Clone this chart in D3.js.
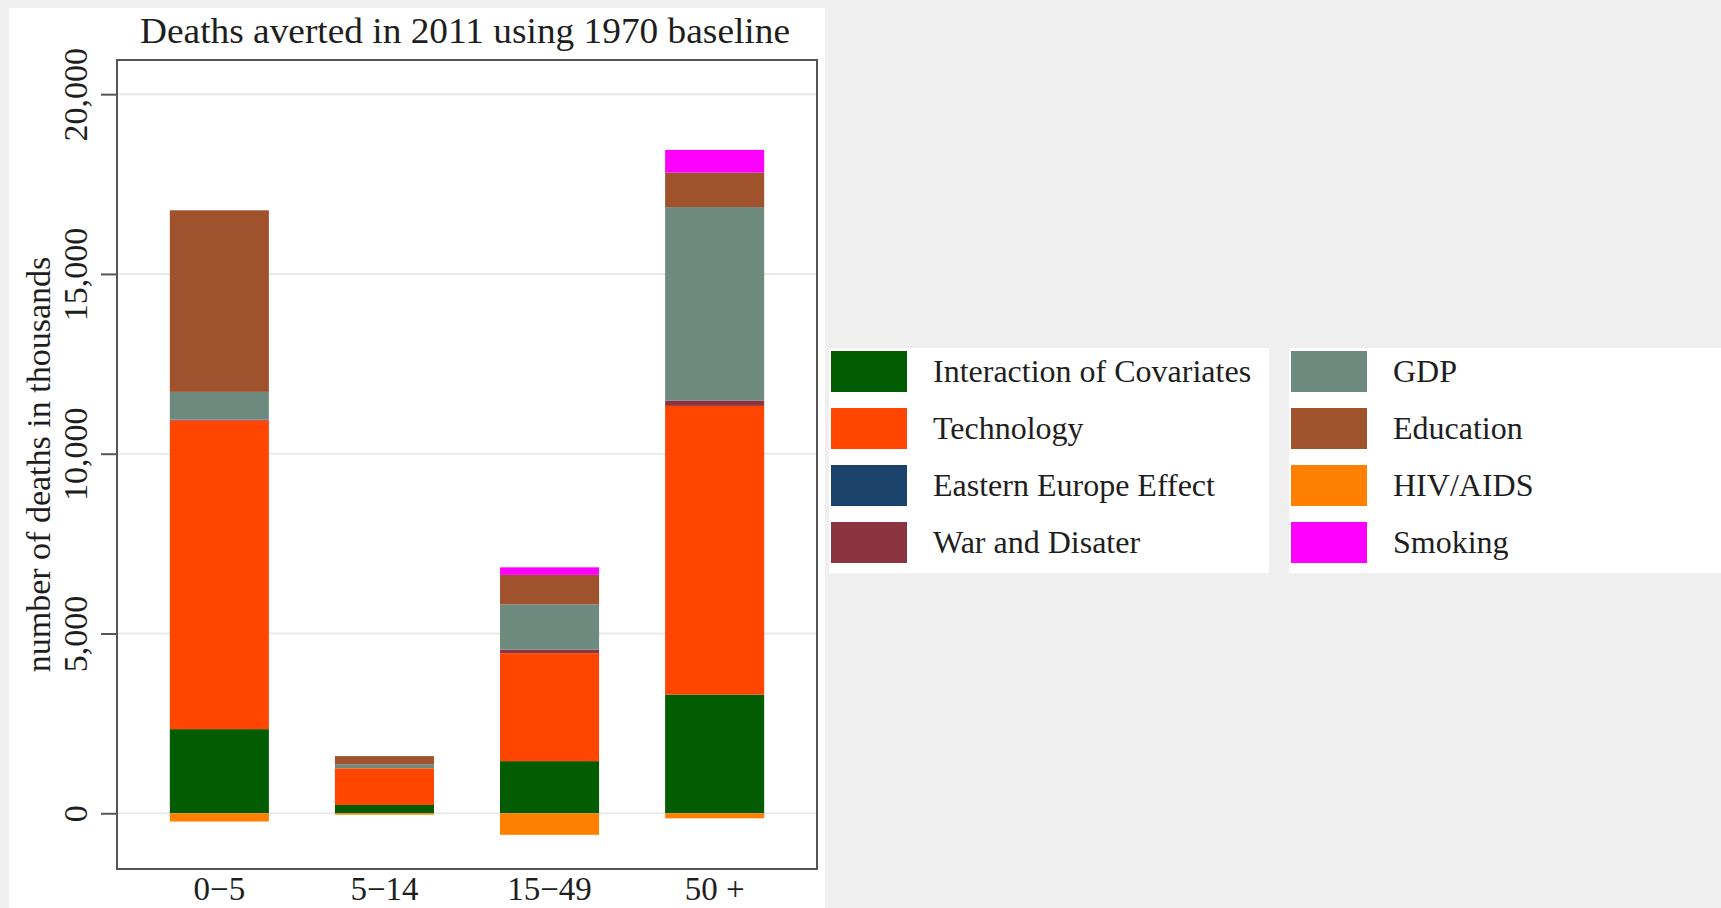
<!DOCTYPE html>
<html>
<head>
<meta charset="utf-8">
<script src="https://cdn.jsdelivr.net/npm/d3@7"></script>
<style>
  html, body { margin: 0; padding: 0; background: #efefef; }
  svg { display: block; }
  text { font-family: "Liberation Serif", "Times New Roman", serif; fill: #1e1e1e; }
</style>
</head>
<body>
<svg id="chart" width="1721" height="908"></svg>
<script>
// Age groups on the x axis
const ageGroups = ["0\u22125", "5\u221214", "15\u221249", "50 +"];

// Deaths averted (thousands) by contributing factor, one value per age group
const interaction   = [2340, 230, 1450, 3300];
const technology    = [8580, 1020, 3000, 8030];
const easternEurope = [0, 0, 0, 0];
const warDisaster   = [30, 0, 100, 150];
const gdp           = [770, 110, 1260, 5380];
const education     = [5050, 230, 820, 960];
const hivAids       = [-230, -40, -600, -140];
const smoking       = [0, 0, 210, 630];

const seriesNames = ["Interaction of Covariates", "Technology", "Eastern Europe Effect",
  "War and Disater", "GDP", "Education", "HIV/AIDS", "Smoking"];
const seriesValues = [interaction, technology, easternEurope, warDisaster,
  gdp, education, hivAids, smoking];
const seriesColors = ["#025c02", "#ff4500", "#1b426b", "#8b3440",
  "#6c8b7e", "#a0522d", "#ff8000", "#ff00ff"];

const yTicks = [0, 5000, 10000, 15000, 20000];

// Table of rows for d3.stack
const rows = ageGroups.map((g, i) => {
  const r = { group: g };
  seriesNames.forEach((s, k) => { r[s] = seriesValues[k][i]; });
  return r;
});

const svg = d3.select("#chart");

// White panel behind the chart
svg.append("rect").attr("x", 9).attr("y", 8).attr("width", 816).attr("height", 900).attr("fill", "#fff");

const plot = { left: 117, right: 817, top: 60, bottom: 869 };

const x = d3.scaleBand().domain(ageGroups).range([plot.left, plot.right])
  .paddingInner(0.4).paddingOuter(0.32);
const y = d3.scaleLinear().domain([-1550, 20950]).range([plot.bottom, plot.top]);

// Gridlines
svg.append("g").selectAll("line").data(yTicks).join("line")
  .attr("x1", plot.left).attr("x2", plot.right)
  .attr("y1", d => y(d)).attr("y2", d => y(d))
  .attr("stroke", "#e9e9e9").attr("stroke-width", 2);

// Stacked bars (HIV/AIDS goes below zero)
const stack = d3.stack().keys(seriesNames).offset(d3.stackOffsetDiverging);
const layers = stack(rows);

svg.append("g").selectAll("g").data(layers).join("g")
  .attr("fill", (d, i) => seriesColors[i])
  .selectAll("rect").data(d => d).join("rect")
  .attr("x", d => x(d.data.group))
  .attr("width", x.bandwidth())
  .attr("y", d => y(Math.max(d[0], d[1])))
  .attr("height", d => Math.abs(y(d[0]) - y(d[1])));

// Frame
svg.append("rect")
  .attr("x", plot.left).attr("y", plot.top)
  .attr("width", plot.right - plot.left).attr("height", plot.bottom - plot.top)
  .attr("fill", "none").attr("stroke", "#555").attr("stroke-width", 2);

// Y axis ticks and rotated labels
const yAxis = d3.axisLeft(y).tickValues(yTicks).tickSize(16).tickPadding(0)
  .tickFormat(d3.format(","));
const ya = svg.append("g").attr("transform", `translate(${plot.left},0)`).call(yAxis);
ya.select(".domain").remove();
ya.selectAll(".tick line").attr("stroke", "#555").attr("stroke-width", 2);
ya.selectAll(".tick text")
  .attr("x", null).attr("dy", null)
  .attr("transform", "translate(-30,0) rotate(-90)")
  .attr("text-anchor", "middle")
  .style("font-family", "Liberation Serif, serif")
  .style("font-size", "34px").attr("fill", "#1e1e1e");

// X axis labels
const xAxis = d3.axisBottom(x).tickSize(0).tickPadding(0);
const xa = svg.append("g").attr("transform", `translate(0,${plot.bottom})`).call(xAxis);
xa.select(".domain").remove();
xa.selectAll(".tick text")
  .attr("y", 31).attr("dy", null)
  .style("font-family", "Liberation Serif, serif")
  .style("font-size", "33px").attr("fill", "#1e1e1e");

// Axis title
svg.append("text")
  .attr("transform", `translate(50,${(plot.top + plot.bottom) / 2}) rotate(-90)`)
  .attr("text-anchor", "middle")
  .style("font-size", "34px")
  .text("number of deaths in thousands");

// Chart title
svg.append("text")
  .attr("x", 465).attr("y", 43)
  .attr("text-anchor", "middle")
  .attr("textLength", 650).attr("lengthAdjust", "spacingAndGlyphs")
  .style("font-size", "36px")
  .text("Deaths averted in 2011 using 1970 baseline");

// Legend: two white boxes, four entries each
const legendCols = [
  { x: 829, w: 440, items: [0, 1, 2, 3] },
  { x: 1289, w: 432, items: [4, 5, 6, 7] }
];
const legendTop = 348, legendH = 225, rowStep = 57;
legendCols.forEach(col => {
  const g = svg.append("g");
  g.append("rect").attr("x", col.x).attr("y", legendTop)
    .attr("width", col.w).attr("height", legendH).attr("fill", "#fff");
  const item = g.selectAll("g").data(col.items).join("g")
    .attr("transform", (d, i) => `translate(${col.x + 2},${legendTop + 3 + i * rowStep})`);
  item.append("rect").attr("width", 76).attr("height", 41)
    .attr("fill", d => seriesColors[d]);
  item.append("text").attr("x", 102).attr("y", 31)
    .style("font-size", "32px")
    .text(d => seriesNames[d]);
});
</script>
</body>
</html>
